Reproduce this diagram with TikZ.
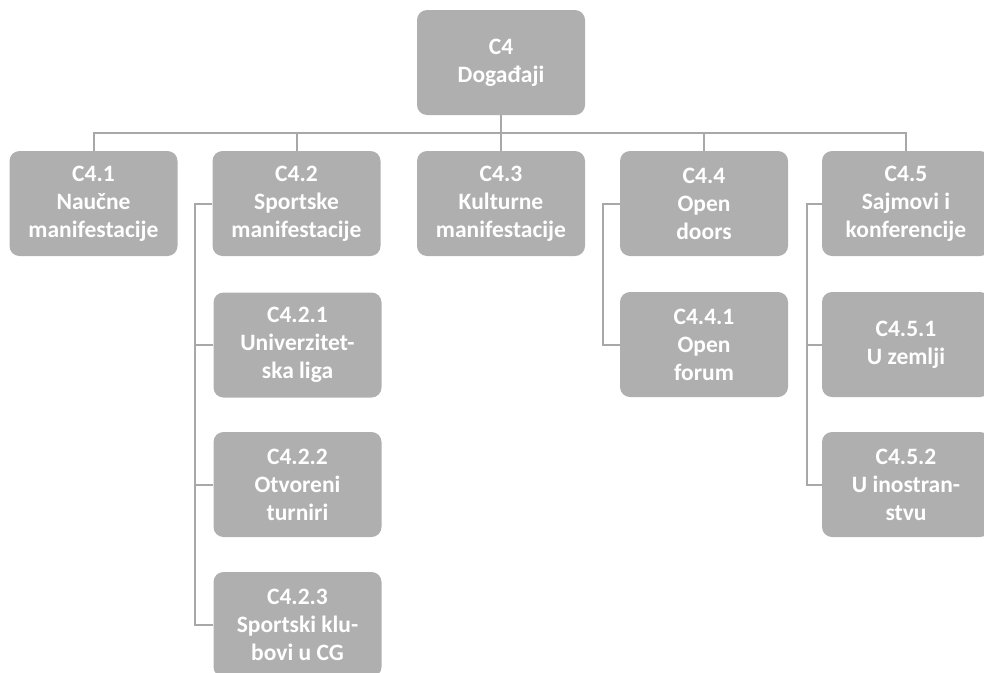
\documentclass[tikz,border=0pt]{standalone}
\usepackage{fontspec}
\setmainfont{Carlito}
\definecolor{boxgray}{RGB}{175,175,175}
\definecolor{linegray}{RGB}{168,168,168}
\begin{document}
\begin{tikzpicture}[x=1pt,y=-1pt,
  box/.style={fill=boxgray, rounded corners=10pt, minimum width=168pt, minimum height=105pt,
    text=white, font=\fontsize{23.5}{28}\selectfont\bfseries, align=center, inner sep=0pt,
    execute at begin node={\rule{0pt}{28pt}}},
  link/.style={draw=linegray, line width=2pt}]
\useasboundingbox (0,0) rectangle (984,672);
\node[box] (top) at (501,62.5) {C4\\Događaji};
\node[box] (c41) at (93.5,203.5) {C4.1\\Naučne\\manifestacije};
\node[box] (c42) at (296.5,203.5) {C4.2\\Sportske\\manifestacije};
\node[box] (c43) at (501,203.5) {C4.3\\Kulturne\\manifestacije};
\node[box] (c44) at (704,203.5) {C4.4\\Open\\doors};
\node[box] (c45) at (906,203.5) {C4.5\\Sajmovi i\\konferencije};
\node[box] (c421) at (297.5,345) {C4.2.1\\Univerzitet-\\ska liga};
\node[box] (c422) at (297.5,484.5) {C4.2.2\\Otvoreni\\turniri};
\node[box] (c423) at (297.5,624.5) {C4.2.3\\Sportski klu-\\bovi u CG};
\node[box] (c441) at (704,344.5) {C4.4.1\\Open\\forum};
\node[box] (c451) at (906,344.5) {C4.5.1\\U zemlji};
\node[box] (c452) at (906,484.5) {C4.5.2\\U inostran-\\stvu};
\coordinate (bus) at (501,133);
\coordinate (s2) at (195,203.5);
\coordinate (s4) at (603,203.5);
\coordinate (s5) at (807,203.5);
\draw[link] (top) -- (c43);
\draw[link] (c41.north) |- (bus) -| (c45.north);
\draw[link] (c42.north) -- (c42.north |- bus);
\draw[link] (c44.north) -- (c44.north |- bus);
\draw[link] (c42.west) -- (s2) |- (c423.west);
\draw[link] (c421.west) -- (c421.west -| s2);
\draw[link] (c422.west) -- (c422.west -| s2);
\draw[link] (c44.west) -- (s4) |- (c441.west);
\draw[link] (c45.west) -- (s5) |- (c452.west);
\draw[link] (c451.west) -- (c451.west -| s5);
\end{tikzpicture}
\end{document}
